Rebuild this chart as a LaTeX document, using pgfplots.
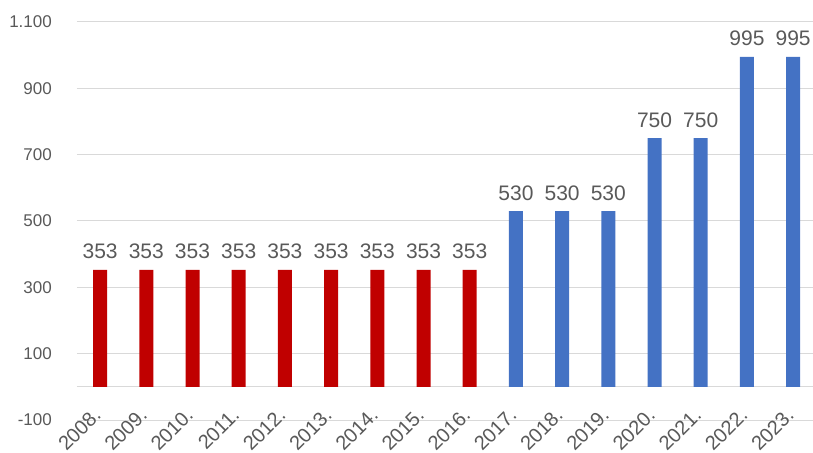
\documentclass[border=0pt]{standalone}
\usepackage{pgfplots}
\pgfplotsset{compat=1.18}
\usepackage{fontspec}
\setmainfont{Liberation Sans}
\definecolor{barred}{HTML}{C00000}
\definecolor{barblue}{HTML}{4472C4}
\definecolor{txt}{HTML}{595959}
\definecolor{gridc}{HTML}{D9D9D9}

\begin{document}
\begin{tikzpicture}
\begin{axis}[
    scale only axis,
    width=736pt, height=398pt,
    xmin=-0.5, xmax=15.43,
    ymin=-100, ymax=1100,
    ytick={-100,100,300,500,700,900,1100},
    xtick={0,...,15},
    xticklabels={2008.,2009.,2010.,2011.,2012.,2013.,2014.,2015.,2016.,2017.,2018.,2019.,2020.,2021.,2022.,2023.},
    /pgf/number format/1000 sep={.},
    /pgf/number format/assume math mode=true,
    ymajorgrids,
    major grid style={gridc, line width=1pt},
    extra y ticks={0},
    extra y tick labels={},
    extra y tick style={grid=major},
    axis line style={draw=none},
    major tick length=0pt,
    tick style={draw=none},
    yticklabel style={font=\fontsize{17}{20}\selectfont, text=txt, anchor=east, inner sep=0pt, xshift=-25pt},
    xticklabel style={font=\fontsize{20}{24}\selectfont, text=txt, rotate=45, anchor=east, inner sep=0pt, yshift=8pt, xshift=4pt},
    ybar, bar width=14pt, bar shift=0pt,
    nodes near coords,
    nodes near coords style={font=\fontsize{21}{24}\selectfont, text=txt, anchor=base, inner sep=0pt, yshift=11pt},
    clip=false,
]
\addplot[fill=barred, draw=none] coordinates {
    (0,353) (1,353) (2,353) (3,353) (4,353) (5,353) (6,353) (7,353) (8,353)
};
\addplot[fill=barblue, draw=none] coordinates {
    (9,530) (10,530) (11,530) (12,750) (13,750) (14,995) (15,995)
};
\coordinate (sw) at (rel axis cs:0,0);
\coordinate (ne) at (rel axis cs:1,1);
\end{axis}
\pgfresetboundingbox
\path[use as bounding box] ([shift={(-77pt,-32pt)}]sw) rectangle ([shift={(0pt,22pt)}]ne);
\end{tikzpicture}
\end{document}
